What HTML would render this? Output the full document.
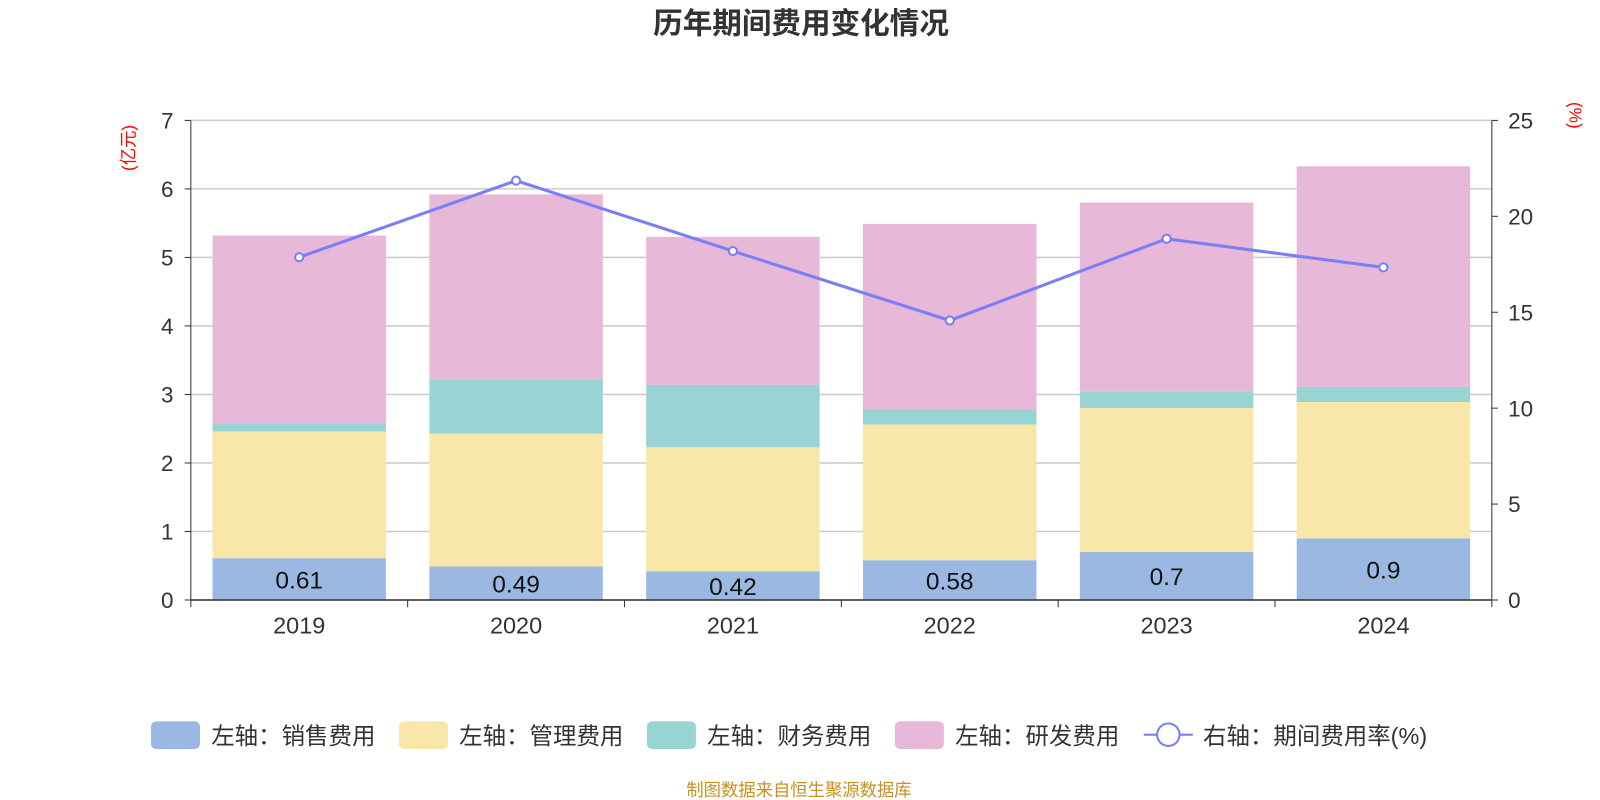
<!DOCTYPE html>
<html><head><meta charset="utf-8"><style>
body{margin:0;background:#fff;font-family:"Liberation Sans","Noto Sans CJK SC",sans-serif}
svg{display:block}
</style></head><body>
<svg id="c" width="1600" height="800" viewBox="0 0 1568 784" xmlns="http://www.w3.org/2000/svg" font-family="Liberation Sans, Noto Sans CJK SC, sans-serif"></svg>
<script>
const categories=["2019","2020","2021","2022","2023","2024"];
const sales=[0.61,0.49,0.42,0.58,0.7,0.9];
const mgmt=[1.85,1.94,1.81,1.98,2.10,1.99];
const finance=[0.12,0.79,0.91,0.22,0.24,0.22];
const rnd=[2.74,2.70,2.16,2.71,2.76,3.22];
const rate=[17.87,21.86,18.19,14.57,18.83,17.34];
const leftTicks=[0,1,2,3,4,5,6,7];
const rightTicks=[0,5,10,15,20,25];
const NS="http://www.w3.org/2000/svg",svg=document.getElementById('c');
const X0=187,X1=1462,Y0=588,Y1=118;
const yL=v=>Y0-(v/7)*(Y0-Y1), yR=v=>Y0-(v/25)*(Y0-Y1);
const bw=(X1-X0)/categories.length, xc=i=>X0+bw*(i+0.5);
function el(t,a,txt){const e=document.createElementNS(NS,t);for(const k in a)e.setAttribute(k,a[k]);if(txt!=null)e.textContent=txt;svg.appendChild(e);return e;}
let e=el('text',{x:785,y:33,'text-anchor':'middle','font-size':29,'font-weight':'bold',fill:'#333'},'历年期间费用变化情况');

leftTicks.forEach(v=>{
 e=el('line',{x1:X0,x2:X1,y1:yL(v),y2:yL(v),stroke:'#ccc','stroke-width':1.5});
 
 e=el('text',{x:170,y:yL(v)+8,'text-anchor':'end','font-size':22,fill:'#333'},v);
 
 e=el('line',{x1:X0-6,x2:X0,y1:yL(v),y2:yL(v),stroke:'#333'});
 
});
rightTicks.forEach(v=>{
 e=el('text',{x:1478,y:yR(v)+8,'font-size':22,fill:'#333'},v);
 
 e=el('line',{x1:X1,x2:X1+6,y1:yR(v),y2:yR(v),stroke:'#333'});
 
});
e=el('text',{x:132,y:145,'font-size':17,fill:'red','text-anchor':'middle',transform:'rotate(-90 132 145)'},'(亿元)');

e=el('text',{x:1538,y:113,'font-size':17,fill:'red','text-anchor':'middle',transform:'rotate(90 1538 113)'},'(%)');

const series=[[sales,'#9bb8e2','sales'],[mgmt,'#f8e7a9','mgmt'],[finance,'#98d4d4','finance'],[rnd,'#e7b8d8','rnd']];
categories.forEach((c,i)=>{
 let base=0;
 series.forEach(([arr,col,n])=>{
  const t=base+arr[i];
  e=el('rect',{x:xc(i)-85,width:170,y:yL(t),height:yL(base)-yL(t),fill:col});
  
  base=t;
 });
 e=el('text',{x:xc(i),y:(yL(sales[i])+Y0)/2+9,'text-anchor':'middle','font-size':24,fill:'#111'},sales[i]);
 
 e=el('text',{x:xc(i),y:621,'text-anchor':'middle','font-size':23,fill:'#333'},c);
 
});
for(let i=0;i<=categories.length;i++){
 e=el('line',{x1:X0+bw*i,x2:X0+bw*i,y1:Y0,y2:Y0+7,stroke:'#333'});
 
}
e=el('line',{x1:X0,x2:X1,y1:Y0,y2:Y0,stroke:'#333','stroke-width':1.5});

e=el('line',{x1:X0,x2:X0,y1:Y1,y2:Y0,stroke:'#333'});

e=el('line',{x1:X1,x2:X1,y1:Y1,y2:Y0,stroke:'#333'});

e=el('polyline',{points:rate.map((v,i)=>xc(i)+','+yR(v)).join(' '),fill:'none',stroke:'#7b7ff5','stroke-width':3});

rate.forEach((v,i)=>{
 e=el('circle',{cx:xc(i),cy:yR(v),r:4,fill:'#fff',stroke:'#7b7ff5','stroke-width':2});
 
});
const leg=[['#9bb8e2','左轴：销售费用',148],['#f8e7a9','左轴：管理费用',391],['#98d4d4','左轴：财务费用',634],['#e7b8d8','左轴：研发费用',877]];
leg.forEach(([col,t,x])=>{
 e=el('rect',{x:x,y:707,width:48,height:27,rx:5,fill:col});
 
 e=el('text',{x:x+59,y:729,'font-size':23,fill:'#333'},t);
 
});
e=el('line',{x1:1121,x2:1169,y1:720,y2:720,stroke:'#7b7ff5','stroke-width':2});

e=el('circle',{cx:1145,cy:720,r:11,fill:'#fff',stroke:'#7b7ff5','stroke-width':2});

e=el('text',{x:1179,y:729,'font-size':23,fill:'#333'},'右轴：期间费用率(%)');

e=el('text',{x:783,y:780,'text-anchor':'middle','font-size':17,fill:'#c8901c'},'制图数据来自恒生聚源数据库');

</script>
</body></html>
